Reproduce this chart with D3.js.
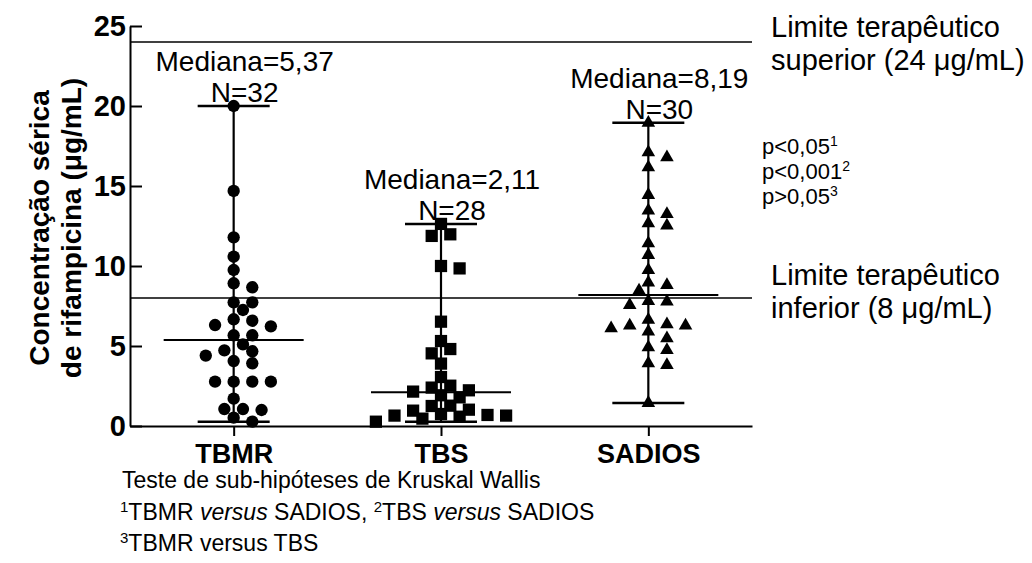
<!DOCTYPE html>
<html>
<head>
<meta charset="utf-8">
<script src="https://cdn.jsdelivr.net/npm/d3@7"></script>
<style>
  body { margin: 0; background: #fff; }
  svg { display: block; font-family: Arial, "Liberation Sans", sans-serif; }
</style>
</head>
<body>
<svg id="chart" width="1032" height="563"></svg>
<script>
// Data
const groups = ["TBMR", "TBS", "SADIOS"];
const tbmr = [20.0, 14.69, 11.79, 10.58, 9.75, 8.92, 8.67, 7.73, 7.73, 7.25, 6.67, 6.58, 6.31, 6.23,
  5.67, 5.67, 5.10, 4.73, 4.67, 4.40, 4.06, 3.92, 2.77, 2.77, 2.77, 2.77, 1.71, 1.06, 1.06, 1.00, 0.52, 0.27];
const tbs = [12.63, 11.98, 11.88, 10.0, 9.85, 6.52, 5.31, 4.81, 4.54, 3.90, 3.06, 2.52, 2.40, 2.23,
  2.15, 1.92, 1.79, 1.27, 1.25, 1.02, 0.96, 0.75, 0.69, 0.65, 0.65, 0.58, 0.46, 0.27];
const sadios = [18.95, 17.1, 16.79, 16.17, 14.44, 13.46, 13.25, 12.67, 12.52, 11.42, 10.69, 9.75, 8.96,
  8.81, 8.46, 7.81, 7.77, 7.56, 6.63, 6.35, 6.27, 6.27, 6.10, 5.90, 5.48, 4.92, 4.75, 3.92, 3.81, 1.44];
const seriesValues = [tbmr, tbs, sadios];
const medians = [5.37, 2.11, 8.19];
const limitValues = [24, 8];
const yTicks = [0, 5, 10, 15, 20, 25];
const limitLabels = [["Limite terapêutico", "superior (24 μg/mL)"], ["Limite terapêutico", "inferior (8 μg/mL)"]];
const pValues = [["p<0,05", "1"], ["p<0,001", "2"], ["p>0,05", "3"]];
const yTitle = ["Concentração sérica", "de rifampicina (μg/mL)"];

const svg = d3.select("#chart");
const fmt = v => v.toFixed(2).replace(".", ",");

// Scales
const y = d3.scaleLinear().domain([0, 25]).range([426, 26]);
const x = d3.scalePoint().domain(groups).range([130, 752]).padding(0.5);

// Therapeutic limit lines
svg.selectAll(".limit")
  .data(limitValues)
  .enter()
  .append("line")
  .attr("class", "limit")
  .attr("x1", 130).attr("x2", 752)
  .attr("y1", d => y(d)).attr("y2", d => y(d))
  .attr("stroke", "#000").attr("stroke-width", 1.6);

// Y axis (ticks pointing inward)
const yAxis = svg.append("g")
  .attr("transform", "translate(130,0)")
  .call(d3.axisLeft(y).tickValues(yTicks).tickSize(-12).tickSizeOuter(0).tickPadding(4));
yAxis.select(".domain").attr("stroke-width", 2);
yAxis.selectAll(".tick line").attr("stroke-width", 2);
yAxis.selectAll(".tick text")
  .attr("font-family", "Arial, 'Liberation Sans', sans-serif")
  .attr("font-size", 29).attr("font-weight", "bold").attr("fill", "#000");

// X axis
const xAxis = svg.append("g")
  .attr("transform", "translate(0,426)")
  .call(d3.axisBottom(x).tickSize(10).tickSizeOuter(0).tickPadding(8));
xAxis.select(".domain").attr("stroke-width", 2);
xAxis.selectAll(".tick line").attr("stroke-width", 2);
xAxis.selectAll(".tick text")
  .attr("font-family", "Arial, 'Liberation Sans', sans-serif")
  .attr("font-size", 27).attr("font-weight", "bold").attr("fill", "#000");

// Y axis title
const yt = svg.append("text")
  .attr("transform", "translate(0,228) rotate(-90)")
  .attr("text-anchor", "middle")
  .attr("font-size", 28).attr("font-weight", "bold");
yt.selectAll("tspan").data(yTitle).enter().append("tspan")
  .attr("x", 0).attr("y", (d, i) => 49 + i * 32)
  .text(d => d);

// Beeswarm-like horizontal spreading of points
function swarm(values, step, minDist) {
  const placed = [];
  values.slice().sort((a, b) => b - a).forEach(v => {
    const py = y(v);
    for (let k = 0; k < 40; k++) {
      const off = k === 0 ? 0 : (k % 2 ? 1 : -1) * Math.ceil(k / 2) * step;
      if (placed.every(p => (p.dx - off) ** 2 + (p.py - py) ** 2 >= minDist * minDist)) {
        placed.push({ v, py, dx: off });
        break;
      }
    }
  });
  return placed;
}

const symbols = [d3.symbolCircle, d3.symbolSquare, d3.symbolTriangle];
const symbolSizes = [120, 150, 80];

groups.forEach((g, i) => {
  const vals = seriesValues[i];
  const cx = x(g);
  const [lo, hi] = d3.extent(vals);
  const grp = svg.append("g");

  // range whisker
  grp.append("line")
    .attr("x1", cx).attr("x2", cx).attr("y1", y(lo)).attr("y2", y(hi))
    .attr("stroke", "#000").attr("stroke-width", 2.2);
  [lo, hi].forEach(v => {
    grp.append("line")
      .attr("x1", cx - 36).attr("x2", cx + 36).attr("y1", y(v)).attr("y2", y(v))
      .attr("stroke", "#000").attr("stroke-width", 2.5);
  });
  // median
  grp.append("line")
    .attr("x1", cx - 70).attr("x2", cx + 70).attr("y1", y(medians[i])).attr("y2", y(medians[i]))
    .attr("stroke", "#000").attr("stroke-width", 2);

  // points
  grp.selectAll("path.pt")
    .data(swarm(vals, 9.3, 11.5))
    .enter()
    .append("path")
    .attr("class", "pt")
    .attr("d", d3.symbol(symbols[i], symbolSizes[i]))
    .attr("transform", d => `translate(${cx + d.dx},${d.py})`)
    .attr("fill", "#000");

  // labels
  grp.append("text")
    .attr("x", cx + 11).attr("y", y(hi) - 35)
    .attr("text-anchor", "middle").attr("font-size", 28)
    .text(`Mediana=${fmt(medians[i])}`);
  grp.append("text")
    .attr("x", cx + 11).attr("y", y(hi) - 4)
    .attr("text-anchor", "middle").attr("font-size", 28)
    .text(`N=${vals.length}`);
});

// Limit annotations
const limitText = svg.selectAll(".limit-label")
  .data(limitLabels)
  .enter()
  .append("text")
  .attr("class", "limit-label")
  .attr("font-size", 29);
limitText.selectAll("tspan")
  .data((d, i) => d.map(t => ({ t, base: i === 0 ? y(limitValues[0]) - 5 : y(limitValues[1]) - 13 })))
  .enter()
  .append("tspan")
  .attr("x", 771)
  .attr("y", (d, j) => d.base + j * 33)
  .text(d => d.t);

// p-values
pValues.forEach((p, i) => {
  const t = svg.append("text").attr("font-size", 22)
    .attr("x", 762).attr("y", 154 + i * 25);
  t.append("tspan").text(p[0]);
  t.append("tspan").attr("dy", -8).attr("font-size", 14).text(p[1]);
});

// Footnotes
const foot = svg.append("g").attr("font-size", 23);
foot.append("text").attr("x", 122).attr("y", 488).text("Teste de sub-hipóteses de Kruskal Wallis");
const f2 = foot.append("text").attr("x", 120).attr("y", 520);
f2.append("tspan").attr("font-size", 15).attr("dy", -8).text("1");
f2.append("tspan").attr("dy", 8).text("TBMR ");
f2.append("tspan").attr("font-style", "italic").text("versus");
f2.append("tspan").text(" SADIOS, ");
f2.append("tspan").attr("font-size", 15).attr("dy", -8).text("2");
f2.append("tspan").attr("dy", 8).text("TBS ");
f2.append("tspan").attr("font-style", "italic").text("versus");
f2.append("tspan").text(" SADIOS");
const f3 = foot.append("text").attr("x", 120).attr("y", 551);
f3.append("tspan").attr("font-size", 15).attr("dy", -8).text("3");
f3.append("tspan").attr("dy", 8).text("TBMR versus TBS");
</script>
</body>
</html>
